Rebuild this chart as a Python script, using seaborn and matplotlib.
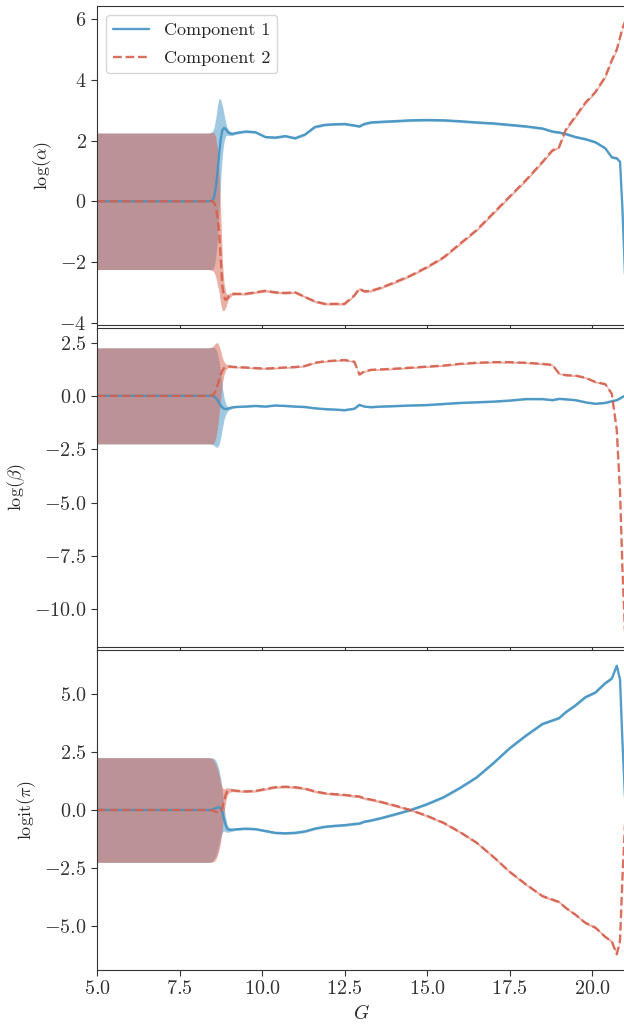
import numpy as np
import pandas as pd
import matplotlib
matplotlib.use("Agg")
import matplotlib.pyplot as plt
from matplotlib.ticker import MultipleLocator
import seaborn as sns

# magnitude grid
G = [5.0, 6.0, 7.0, 8.0, 8.3, 8.4, 8.5, 8.55, 8.6, 8.65,
     8.7, 8.75, 8.8, 8.85, 8.9, 8.95, 9.0, 9.1, 9.2,
     9.5, 9.8, 10.1, 10.4, 10.7, 11.0, 11.3, 11.6,
     11.9, 12.2, 12.5, 12.8, 12.95, 13.1, 13.3, 13.6, 14.0, 14.5,
     15.0, 15.5, 16.0, 16.5, 17.0, 17.5, 18.0, 18.5, 18.8, 19.0,
     19.2, 19.5, 19.8, 20.1, 20.4, 20.6, 20.75, 20.85, 20.92, 21.0]

# log(alpha)
alpha_c1 = [0, 0, 0, 0, 0, 0, 0.02, 0.15, 0.45, 0.95,
            1.55, 2.05, 2.35, 2.42, 2.38, 2.3, 2.25, 2.22, 2.25,
            2.3, 2.28, 2.12, 2.1, 2.15, 2.08, 2.2, 2.45,
            2.52, 2.54, 2.55, 2.5, 2.47, 2.55, 2.6, 2.62, 2.64, 2.67,
            2.68, 2.67, 2.64, 2.6, 2.57, 2.52, 2.47, 2.4, 2.3, 2.27,
            2.22, 2.12, 2.05, 1.95, 1.75, 1.45, 1.42, 1.3, -0.2, -2.4]
alpha_c2 = [0, 0, 0, 0, 0, 0, 0, -0.05, -0.2, -0.5,
            -1.0, -1.9, -2.8, -3.15, -3.25, -3.2, -3.12, -3.05, -3.05,
            -3.05, -3.0, -2.95, -3.0, -3.02, -3.0, -3.15, -3.3,
            -3.38, -3.38, -3.38, -3.1, -2.88, -2.97, -2.95, -2.85, -2.68, -2.45,
            -2.17, -1.85, -1.4, -0.95, -0.4, 0.15, 0.7, 1.3, 1.68, 1.78,
            2.35, 2.8, 3.25, 3.6, 4.1, 4.65, 5.0, 5.4, 5.7, 5.92]
alpha_c1_sd = [2.25, 2.25, 2.25, 2.25, 2.25, 2.25, 2.28, 2.3, 2.3, 2.2,
               1.85, 1.3, 0.8, 0.45, 0.22, 0.12, 0.08, 0.05, 0.04] + [0.04] * 38
alpha_c2_sd = [2.25, 2.25, 2.25, 2.25, 2.25, 2.25, 2.28, 2.3, 2.3, 2.25,
               2.0, 1.5, 0.8, 0.45, 0.25, 0.12, 0.08, 0.05, 0.04] + [0.04] * 38

# log(beta)
beta_c1 = [0, 0, 0, 0, 0, 0, 0, -0.03, -0.1, -0.2,
           -0.33, -0.45, -0.55, -0.6, -0.62, -0.61, -0.58, -0.54, -0.52,
           -0.5, -0.47, -0.5, -0.45, -0.47, -0.5, -0.52, -0.58,
           -0.62, -0.64, -0.67, -0.6, -0.42, -0.5, -0.53, -0.5, -0.48, -0.45,
           -0.43, -0.38, -0.33, -0.3, -0.27, -0.22, -0.15, -0.15, -0.2, -0.14,
           -0.16, -0.2, -0.3, -0.37, -0.33, -0.25, -0.2, -0.12, -0.05, 0.0]
beta_c2 = [0, 0, 0, 0, 0, 0, 0.02, 0.1, 0.25, 0.5,
           0.75, 1.0, 1.18, 1.3, 1.36, 1.38, 1.38, 1.36, 1.35,
           1.33, 1.3, 1.28, 1.3, 1.33, 1.35, 1.4, 1.55,
           1.62, 1.65, 1.68, 1.6, 1.0, 1.15, 1.22, 1.24, 1.27, 1.32,
           1.37, 1.42, 1.5, 1.55, 1.58, 1.58, 1.55, 1.5, 1.45, 1.05,
           0.97, 0.95, 0.85, 0.65, 0.55, 0.1, -1.6, -4.5, -8.0, -11.05]
beta_c1_sd = [2.25, 2.25, 2.25, 2.25, 2.25, 2.25, 2.28, 2.3, 2.3, 2.2,
              1.95, 1.5, 0.95, 0.5, 0.25, 0.12, 0.08, 0.05, 0.04] + [0.04] * 38
beta_c2_sd = [2.25, 2.25, 2.25, 2.25, 2.25, 2.25, 2.28, 2.3, 2.22, 2.0,
              1.6, 1.1, 0.6, 0.3, 0.15, 0.08, 0.06, 0.05, 0.04] + [0.04] * 38

# logit(pi)
pi_c1 = [0, 0, 0, 0, 0, 0, 0.02, 0.05, 0.08, 0.1,
         0.12, 0.08, -0.1, -0.4, -0.65, -0.8, -0.85, -0.85, -0.83,
         -0.8, -0.82, -0.9, -0.98, -1.0, -0.98, -0.92, -0.8,
         -0.72, -0.68, -0.65, -0.6, -0.58, -0.5, -0.45, -0.35, -0.2, 0.0,
         0.25, 0.55, 0.95, 1.4, 2.0, 2.65, 3.2, 3.7, 3.85, 3.95,
         4.2, 4.5, 4.85, 5.05, 5.45, 5.65, 6.2, 5.6, 3.0, 0.55]
pi_c2 = [0, 0, 0, 0, 0, 0, -0.02, -0.05, -0.08, -0.1,
         -0.12, -0.08, 0.1, 0.4, 0.65, 0.8, 0.85, 0.85, 0.83,
         0.8, 0.82, 0.9, 0.98, 1.0, 0.98, 0.92, 0.8,
         0.72, 0.68, 0.65, 0.6, 0.58, 0.5, 0.45, 0.35, 0.2, 0.0,
         -0.25, -0.55, -0.95, -1.4, -2.0, -2.65, -3.2, -3.7, -3.85, -3.95,
         -4.2, -4.5, -4.85, -5.05, -5.45, -5.65, -6.2, -5.6, -3.0, -0.62]
pi_sd = [2.25, 2.25, 2.25, 2.25, 2.25, 2.25, 2.22, 2.15, 2.05, 1.85,
         1.6, 1.25, 0.85, 0.5, 0.3, 0.15, 0.1, 0.06, 0.05] + [0.05] * 38

sns.set_style("ticks")
plt.rcParams.update({
    "font.family": "serif",
    "font.serif": ["cmr10", "DejaVu Serif"],
    "mathtext.fontset": "cm",
    "axes.formatter.use_mathtext": True,
    "axes.edgecolor": "0.2",
    "xtick.color": "0.2",
    "ytick.color": "0.2",
    "text.color": "0.15",
})

blue = "#4393c3"
red = "#d6604d"

fig = plt.figure(figsize=(6.24, 10.24), dpi=100)
left, width = 97 / 624, 528 / 624
ax1 = fig.add_axes([left, 1 - 325 / 1024, width, 319 / 1024])
ax2 = fig.add_axes([left, 1 - 647 / 1024, width, 319 / 1024], sharex=ax1)
ax3 = fig.add_axes([left, 1 - 970 / 1024, width, 320 / 1024], sharex=ax1)

panels = [
    (ax1, alpha_c1, alpha_c1_sd, alpha_c2, alpha_c2_sd, r"$\log(\alpha)$"),
    (ax2, beta_c1, beta_c1_sd, beta_c2, beta_c2_sd, r"$\log(\beta)$"),
    (ax3, pi_c1, pi_sd, pi_c2, pi_sd, r"$\mathrm{logit}(\pi)$"),
]

g = np.array(G)
for i, (ax, m1, s1, m2, s2, lab) in enumerate(panels):
    m1, s1, m2, s2 = map(np.array, (m1, s1, m2, s2))
    ax.fill_between(g, m1 - s1, m1 + s1, color=blue, alpha=0.5, lw=0)
    ax.fill_between(g, m2 - s2, m2 + s2, color=red, alpha=0.5, lw=0)
    df = pd.DataFrame({"G": G, "c1": m1, "c2": m2})
    sns.lineplot(data=df, x="G", y="c1", ax=ax, color=blue, lw=1.7, alpha=0.9,
                 label="Component 1" if i == 0 else None, legend=False)
    sns.lineplot(data=df, x="G", y="c2", ax=ax, color=red, lw=1.7, alpha=0.9,
                 linestyle="--", label="Component 2" if i == 0 else None,
                 legend=False)
    ax.set_ylabel(lab, fontsize=13)
    ax.set_xlabel("")
    ax.tick_params(labelsize=14.5, length=4)

ax2.yaxis.set_major_locator(MultipleLocator(2.5))
ax3.yaxis.set_major_locator(MultipleLocator(2.5))
ax1.set_xlim(5, 21)
ax1.set_xticks([5.0, 7.5, 10.0, 12.5, 15.0, 17.5, 20.0])
ax1.tick_params(labelbottom=False)
ax2.tick_params(labelbottom=False)
ax3.set_xlabel(r"$G$", fontsize=14)
ax1.legend(loc="upper left", fontsize=13, labelspacing=0.7)

fig.savefig("out.png", dpi=100)
